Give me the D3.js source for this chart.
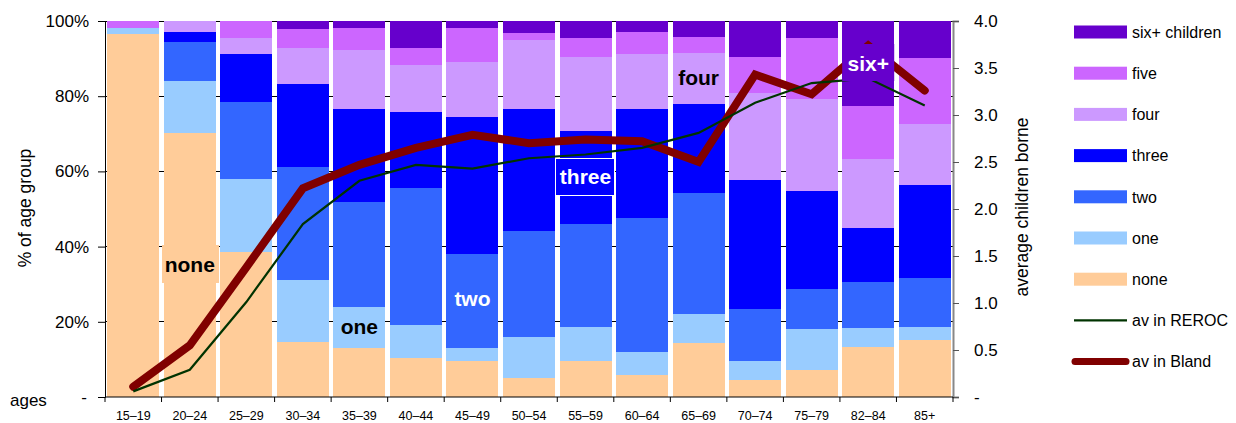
<!DOCTYPE html>
<html>
<head>
<meta charset="utf-8">
<script src="https://cdn.jsdelivr.net/npm/d3@7"></script>
<style>
  html, body { margin: 0; padding: 0; background: #fff; }
  svg { display: block; }
  text { font-family: "Liberation Sans", Arial, sans-serif; fill: #000; }
  .bold { font-weight: bold; }
</style>
</head>
<body>
<svg id="chart" width="1236" height="423"></svg>
<script>
// ---------- data ----------
const ages = ["15–19","20–24","25–29","30–34","35–39","40–44","45–49","50–54","55–59","60–64","65–69","70–74","75–79","82–84","85+"];
const seriesNames = ["none","one","two","three","four","five","six+ children"];
const none  = [96.5,70.2,38.6,14.7,13.0,10.4, 9.6, 5.1, 9.6, 5.9,14.4, 4.5, 7.2,13.3,15.2];
const one   = [ 1.6,13.8,19.4,16.4,10.9, 8.7, 3.4,10.9, 9.0, 6.1, 7.7, 5.1,10.9, 5.1, 3.4];
const two   = [ 0.0,10.4,20.5,30.1,28.0,36.5,25.0,28.1,27.4,35.6,32.2,13.8,10.6,12.2,13.0];
const three = [ 0.0, 2.7,12.7,22.0,24.7,20.2,36.5,32.5,24.7,29.0,23.6,34.3,26.1,14.3,24.8];
const four  = [ 0.0, 2.9, 4.3, 9.6,15.7,12.5,14.6,18.3,19.7,14.6,13.6,23.2,24.5,18.4,16.2];
const five  = [ 1.9, 0.0, 4.5, 5.1, 5.8, 4.5, 9.0, 1.9, 5.1, 5.9, 4.2, 9.5,16.2,14.1,17.6];
const six   = [ 0.0, 0.0, 0.0, 2.1, 1.9, 7.2, 1.9, 3.2, 4.5, 2.9, 4.3, 9.6, 4.5,22.6, 9.8];
const avReroc = [0.06,0.29,1.01,1.84,2.30,2.47,2.43,2.54,2.58,2.65,2.81,3.13,3.34,3.39,3.10];
const avBland = [0.11,0.55,1.38,2.22,2.47,2.65,2.79,2.70,2.74,2.72,2.50,3.43,3.22,3.74,3.26];
const leftTicks = [0,20,40,60,80,100];
const rightTicks = [0,0.5,1,1.5,2,2.5,3,3.5,4];
const colors = ["#FFCC99","#99CCFF","#3366FF","#0000FF","#CC99FF","#CC66FF","#6600CC"];

// ---------- layout ----------
const svg = d3.select("#chart");
const L = 105, R = 953, T = 21, B = 397;

const x = d3.scaleBand().domain(ages).range([L, R]).paddingInner(0.08).paddingOuter(0.04);
const y = d3.scaleLinear().domain([0, 100]).range([B, T]);
const y2 = d3.scaleLinear().domain([0, 4]).range([B, T]);

// table for stacking
const table = ages.map((a, i) => ({
  age: a, "none": none[i], "one": one[i], "two": two[i], "three": three[i],
  "four": four[i], "five": five[i], "six+ children": six[i]
}));
const stack = d3.stack().keys(seriesNames)(table);

// gridlines
svg.append("g").selectAll("line").data(leftTicks.filter(d => d > 0)).join("line")
  .attr("x1", L).attr("x2", R).attr("y1", d => y(d)).attr("y2", d => y(d))
  .attr("stroke", "#000").attr("stroke-width", 1).attr("shape-rendering", "crispEdges");

// bars
svg.append("g").selectAll("g").data(stack).join("g")
  .attr("fill", (d, i) => colors[i])
  .selectAll("rect").data(d => d).join("rect")
  .attr("x", d => x(d.data.age))
  .attr("width", x.bandwidth())
  .attr("y", d => y(d[1]))
  .attr("height", d => Math.max(0, y(d[0]) - y(d[1])))
  .attr("shape-rendering", "crispEdges");

// lines
const lineGen = vals => d3.line().x((d, i) => x(ages[i]) + x.bandwidth() / 2).y(d => y2(d))(vals);
svg.append("path").attr("d", lineGen(avBland)).attr("fill", "none")
  .attr("stroke", "#800000").attr("stroke-width", 8)
  .attr("stroke-linecap", "round").attr("stroke-linejoin", "miter");
svg.append("path").attr("d", lineGen(avReroc)).attr("fill", "none")
  .attr("stroke", "#003300").attr("stroke-width", 2.2);

// in-chart labels
function label(txt, cx, base, color, box, boxFill, stroke) {
  if (box) {
    svg.append("rect").attr("x", box[0]).attr("y", box[1]).attr("width", box[2]).attr("height", box[3])
      .attr("fill", boxFill).attr("stroke", stroke || "none").attr("stroke-width", stroke ? 1 : 0);
  }
  svg.append("text").attr("class", "bold").attr("x", cx).attr("y", base)
    .attr("text-anchor", "middle").style("font-size", "21px").style("fill", color).text(txt);
}
const cxOf = a => x(a) + x.bandwidth() / 2;
label("none", cxOf("20–24"), 272, "#000", [162, 245, 57, 38], colors[0]);
label("one", cxOf("35–39"), 334, "#000");
label("two", cxOf("45–49"), 306, "#fff");
label("three", cxOf("55–59"), 184, "#fff", [555.5, 158.5, 59, 37], colors[3], "#fff");
label("four", cxOf("65–69"), 85, "#000");
label("six+", cxOf("82–84"), 71, "#fff", [x("82–84"), 44, x.bandwidth(), 37], colors[6]);

// axes
const axL = svg.append("g").attr("transform", `translate(${L},0)`)
  .call(d3.axisLeft(y).tickValues(leftTicks).tickSize(7).tickPadding(9)
    .tickFormat(d => d === 0 ? "-" : d + "%"));
axL.select(".domain").attr("stroke", "#000");
axL.selectAll("text").style("font-size", "17px");
axL.selectAll(".tick").filter(d => d === 0).select("text").attr("dx", "-2");

const axR = svg.append("g").attr("transform", `translate(${R},0)`)
  .call(d3.axisRight(y2).tickValues(rightTicks).tickSize(6).tickPadding(15)
    .tickFormat(d => d === 0 ? "-" : d3.format(".1f")(d)));
axR.select(".domain").attr("stroke", "#888").attr("stroke-width", 2);
axR.selectAll(".tick line").attr("stroke", "#555");
axR.selectAll("text").style("font-size", "17px");

const axB = svg.append("g").attr("transform", `translate(0,${B})`)
  .call(d3.axisBottom(x).tickSize(0).tickPadding(14));
axB.select(".domain").attr("stroke", "#000").attr("d", `M${L},0H${R}`);
axB.selectAll("text").style("font-size", "12.5px");
// boundary ticks
const bounds = ages.map(a => x(a) - x.step() * x.paddingInner() / 2).concat([R]);
bounds[0] = L;
axB.append("g").selectAll("line").data(bounds).join("line")
  .attr("x1", d => d).attr("x2", d => d).attr("y1", 0).attr("y2", 5).attr("stroke", "#000");

// axis titles
svg.append("text").attr("transform", "translate(31,208) rotate(-90)").attr("text-anchor", "middle")
  .style("font-size", "17.5px").text("% of age group");
svg.append("text").attr("transform", "translate(1028,207) rotate(-90)").attr("text-anchor", "middle")
  .style("font-size", "17.5px").text("average children borne");
svg.append("text").attr("x", 10).attr("y", 406).style("font-size", "17px").text("ages");

// legend
const legendItems = [
  {name: "six+ children", type: "rect", color: colors[6]},
  {name: "five", type: "rect", color: colors[5]},
  {name: "four", type: "rect", color: colors[4]},
  {name: "three", type: "rect", color: colors[3]},
  {name: "two", type: "rect", color: colors[2]},
  {name: "one", type: "rect", color: colors[1]},
  {name: "none", type: "rect", color: colors[0]},
  {name: "av in REROC", type: "line", color: "#003300", w: 2.2},
  {name: "av in Bland", type: "line", color: "#800000", w: 7}
];
const lg = svg.append("g");
legendItems.forEach((it, i) => {
  const cy = 32 + i * 41.2;
  if (it.type === "rect") {
    lg.append("rect").attr("x", 1074).attr("y", cy - 6.5).attr("width", 53).attr("height", 13).attr("fill", it.color);
  } else {
    lg.append("line").attr("x1", it.w > 3 ? 1075 : 1074).attr("x2", it.w > 3 ? 1126 : 1127)
      .attr("y1", cy).attr("y2", cy).attr("stroke", it.color).attr("stroke-width", it.w)
      .attr("stroke-linecap", it.w > 3 ? "round" : "butt");
  }
  lg.append("text").attr("x", 1132).attr("y", cy).attr("dy", "0.36em").style("font-size", "16px").text(it.name);
});
</script>
</body>
</html>
